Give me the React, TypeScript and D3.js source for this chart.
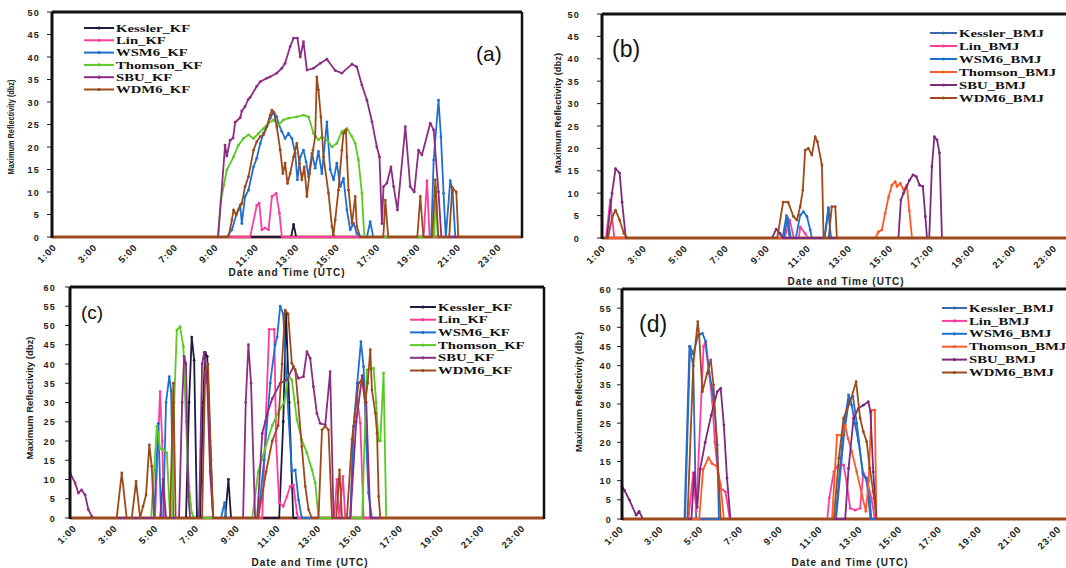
import React from "react";
import * as d3 from "d3";

type Pt = [number, number];

// ---------- shared axis data ----------
const hourTicks = [1, 3, 5, 7, 9, 11, 13, 15, 17, 19, 21, 23];
const hourLabels = ["1:00", "3:00", "5:00", "7:00", "9:00", "11:00", "13:00", "15:00", "17:00", "19:00", "21:00", "23:00"];
const yTicks50 = [0, 5, 10, 15, 20, 25, 30, 35, 40, 45, 50];
const yTicks60 = [0, 5, 10, 15, 20, 25, 30, 35, 40, 45, 50, 55, 60];
const namesKF = ["Kessler_KF", "Lin_KF", "WSM6_KF", "Thomson_KF", "SBU_KF", "WDM6_KF"];
const namesBMJ = ["Kessler_BMJ", "Lin_BMJ", "WSM6_BMJ", "Thomson_BMJ", "SBU_BMJ", "WDM6_BMJ"];
const colorsKF = ["#1c1c40", "#ff3d9e", "#1f6fd1", "#5bc825", "#8c2d84", "#9c4a1c"];
const colorsBMJ = ["#3a68b0", "#ff3d9e", "#1f6fd1", "#ff5a28", "#7c2a7c", "#9c4a1c"];
const xTitle = "Date and Time (UTC)";
const yTitle = "Maximum Reflectivity (dbz)";

// ---------- panel (a): KF ----------
const kesslerA: Pt[] = [[1, 0], [12.83, 0], [12.95, 2.8], [13.08, 0], [24.25, 0]];
const linA: Pt[] = [[1, 0], [10.8, 0], [11.13, 7], [11.25, 7.5], [11.38, 1.6], [11.54, 2], [11.71, 1.6], [11.88, 9], [12.09, 9.7], [12.25, 5.3], [12.37, 0], [19.38, 0], [19.55, 12.5], [19.68, 0], [24.25, 0]];
const wsm6A: Pt[] = [[1, 0], [9.65, 0], [9.9, 1.6], [10.14, 5.3], [10.31, 7.1], [10.39, 3], [10.55, 9], [10.72, 10.4], [10.97, 15.6], [11.13, 17.5], [11.3, 20.8], [11.46, 23], [11.63, 24.5], [11.79, 26.4], [11.96, 27.8], [12.12, 26.7], [12.2, 25.3], [12.37, 23.4], [12.53, 21.9], [12.7, 23], [12.87, 21.9], [13.03, 18.6], [13.14, 12.7], [13.28, 17.8], [13.44, 19.3], [13.57, 16.7], [13.69, 13.4], [13.86, 18.6], [14.02, 15.3], [14.18, 19], [14.35, 14.1], [14.6, 25.6], [14.76, 15], [14.93, 12.7], [15.09, 16.4], [15.26, 11.2], [15.42, 13], [15.59, 6], [15.75, 1.6], [15.92, 3], [16.08, 0.8], [16.25, 0], [16.58, 0], [16.74, 3.4], [16.89, 0], [19.76, 0], [19.88, 17.1], [20.12, 30.4], [20.24, 22.3], [20.37, 9.7], [20.48, 0], [20.7, 12.5], [20.82, 10], [20.95, 0], [24.25, 0]];
const thomsonA: Pt[] = [[1, 0], [9.2, 0], [9.35, 8], [9.5, 11.5], [9.65, 14.9], [9.98, 17.8], [10.22, 20.4], [10.47, 21.9], [10.72, 22.7], [10.97, 21.9], [11.21, 23], [11.46, 24.1], [11.71, 25.3], [11.96, 26], [12.21, 24.9], [12.45, 26], [12.7, 26.4], [13.11, 26.7], [13.44, 27.1], [13.69, 26.7], [13.94, 23], [14.18, 21.6], [14.35, 22.3], [14.6, 21.6], [14.85, 20], [15.09, 20.8], [15.34, 23.4], [15.59, 24.1], [15.84, 22.3], [16.0, 20.8], [16.16, 17.1], [16.33, 9.7], [16.45, 0], [19.9, 0], [20.0, 11], [20.08, 0], [24.25, 0]];
const sbuA: Pt[] = [[1, 0], [9.22, 0], [9.56, 20.4], [9.65, 18], [9.81, 21.5], [9.96, 22], [10.06, 25.5], [10.31, 26.5], [10.39, 28], [10.55, 29], [10.7, 30.5], [10.8, 31], [11.13, 33.5], [11.3, 34.5], [11.63, 35.3], [11.79, 35.6], [12.12, 36.4], [12.37, 37.5], [12.53, 38.6], [12.78, 42.3], [12.95, 44.2], [13.14, 44.2], [13.28, 40], [13.44, 43.4], [13.61, 37.1], [13.94, 37.5], [14.27, 38.6], [14.6, 39.5], [15.01, 37], [15.34, 36.4], [15.84, 38.4], [16.08, 37.8], [16.33, 33.8], [16.58, 30.4], [16.83, 25.6], [17.07, 20], [17.2, 17.8], [17.32, 3], [17.4, 11.2], [17.57, 12], [17.77, 15.6], [17.9, 11.2], [18.09, 6], [18.48, 24.5], [18.72, 11.2], [18.92, 10], [19.13, 19.3], [19.3, 18.2], [19.71, 25.3], [19.88, 23.8], [20.12, 10], [20.26, 0], [24.25, 0]];
const wdm6A: Pt[] = [[1, 0], [9.73, 0], [9.9, 3.8], [9.98, 6], [10.11, 4.9], [10.22, 6], [10.39, 7.5], [10.55, 11.2], [10.72, 13.4], [10.97, 19.3], [11.13, 21.2], [11.3, 22.3], [11.46, 22.7], [11.63, 24.5], [11.79, 27.1], [11.88, 28.2], [11.99, 27.5], [12.12, 24.5], [12.29, 19.3], [12.42, 14.1], [12.53, 16.4], [12.65, 11.9], [12.78, 14.1], [12.95, 17.8], [13.11, 20.8], [13.24, 16.4], [13.36, 12.7], [13.48, 15.6], [13.61, 9], [13.74, 14.1], [13.91, 19.3], [14.02, 22.3], [14.1, 35.6], [14.18, 32.7], [14.3, 26.7], [14.43, 17.8], [14.68, 9.7], [14.85, 2.3], [14.92, 0.4], [15.01, 3.8], [15.17, 10.4], [15.34, 19.3], [15.42, 23], [15.54, 23.8], [15.59, 17.8], [15.67, 10.4], [15.84, 3], [16.0, 9], [16.08, 2.3], [16.25, 0], [17.39, 0], [17.49, 8.2], [17.63, 0], [19.07, 0], [19.22, 9], [19.37, 0], [19.81, 0], [19.96, 12.7], [20.11, 0], [20.65, 0], [20.8, 11], [21.0, 10], [21.1, 0], [24.25, 0]];

// ---------- panel (b): BMJ ----------
const kesslerB: Pt[] = [[1, 0], [9.8, 0], [9.99, 5], [10.15, 0], [11.85, 0], [12.05, 6.5], [12.15, 0], [24.25, 0]];
const linB: Pt[] = [[1, 0], [1.2, 0], [1.4, 8.5], [1.6, 0], [9.9, 0], [10.15, 4], [10.35, 0], [10.6, 0], [10.66, 2.5], [10.9, 1], [11.05, 0], [24.25, 0]];
const wsm6B: Pt[] = [[1, 0], [9.85, 0], [10.05, 4.5], [10.2, 0], [10.45, 0], [10.66, 5.1], [10.82, 5.9], [10.99, 4.8], [11.15, 1.8], [11.23, 0], [11.85, 0], [12.03, 6.8], [12.15, 0], [24.25, 0]];
const thomsonB: Pt[] = [[1, 0], [14.32, 0], [14.48, 1.4], [14.64, 1.8], [14.8, 5.5], [14.97, 9.2], [15.13, 11.8], [15.29, 12.6], [15.38, 11.5], [15.54, 12.2], [15.7, 10.7], [15.86, 11.8], [15.98, 6], [16.11, 0], [24.25, 0]];
const sbuB: Pt[] = [[1, 0], [1.24, 0], [1.49, 10], [1.66, 15.5], [1.86, 14.5], [1.98, 8], [2.16, 0], [9.29, 0], [9.49, 2], [9.68, 1], [9.8, 0], [15.45, 0], [15.57, 8.5], [15.7, 10], [15.99, 12.9], [16.16, 14.1], [16.32, 13.7], [16.48, 11.8], [16.64, 11.5], [16.76, 4.8], [16.84, 0], [16.95, 0], [17.08, 15.9], [17.2, 22.6], [17.33, 21.9], [17.45, 19], [17.57, 0], [24.25, 0]];
const wdm6B: Pt[] = [[1, 0], [1.29, 0], [1.49, 4.5], [1.66, 6.2], [1.86, 4], [2.07, 1], [2.24, 0], [9.54, 0], [9.83, 8], [10.07, 8], [10.33, 4.8], [10.5, 4], [10.66, 7], [10.79, 10.7], [10.9, 19.6], [11.06, 20], [11.23, 18.5], [11.39, 22.6], [11.5, 21.5], [11.72, 16.3], [11.8, 0], [12.05, 0], [12.2, 7], [12.37, 7], [12.45, 0], [24.25, 0]];

// ---------- panel (c): KF ----------
const kesslerC: Pt[] = [[1, 0], [6.69, 0], [6.84, 30], [6.97, 47], [7.09, 41], [7.23, 0], [7.38, 0], [7.53, 30], [7.63, 43], [7.73, 42], [7.87, 20], [8.02, 0], [8.61, 0], [8.77, 10], [8.9, 0], [11.26, 0], [11.46, 25], [11.6, 53], [11.75, 30], [11.95, 0], [24.25, 0]];
const linC: Pt[] = [[1, 0], [5.17, 0], [5.32, 20], [5.42, 32.8], [5.52, 20], [5.61, 0], [10.43, 0], [10.6, 25], [10.77, 49], [11.02, 49], [11.11, 20], [11.26, 4], [11.46, 3], [11.64, 5.6], [11.8, 8.2], [11.96, 8.6], [12.13, 1.3], [12.19, 0], [13.96, 0], [14.09, 10], [14.21, 0], [14.39, 10.8], [14.5, 0], [14.75, 0], [14.91, 23.8], [15.07, 31.5], [15.24, 24.6], [15.4, 0], [24.25, 0]];
const wsm6C: Pt[] = [[1, 0], [5.12, 0], [5.33, 24.6], [5.47, 0], [5.57, 0], [5.71, 30], [5.87, 36.7], [5.96, 33], [6.07, 0], [8.41, 0], [8.58, 4], [8.66, 0], [10.23, 0], [10.52, 15], [10.82, 35], [11.06, 45], [11.16, 47], [11.31, 55], [11.46, 53], [11.64, 33.3], [11.88, 12.1], [12.05, 12.5], [12.21, 4.7], [12.37, 0], [14.75, 0], [14.91, 23.8], [15.09, 35], [15.27, 45.8], [15.4, 39.3], [15.53, 20], [15.64, 6.5], [15.81, 0], [24.25, 0]];
const thomsonC: Pt[] = [[1, 0], [4.98, 0], [5.26, 23.8], [5.42, 18], [5.58, 17.7], [5.75, 16.9], [5.91, 0], [6.01, 0], [6.11, 30], [6.24, 48.8], [6.4, 49.7], [6.56, 44.5], [6.69, 25], [6.84, 8], [6.97, 1.3], [7.09, 0], [9.94, 0], [10.23, 12], [10.57, 18], [10.92, 24], [11.26, 28], [11.51, 30], [11.7, 37], [11.88, 35.9], [12.13, 25.5], [12.37, 20.3], [12.62, 16.9], [12.87, 12.5], [13.03, 9.1], [13.19, 0], [15.33, 0], [15.56, 38.5], [15.89, 38.9], [16.02, 30], [16.13, 20], [16.22, 20], [16.38, 37.6], [16.51, 0], [24.25, 0]];
const sbuC: Pt[] = [[1, 11.7], [1.25, 9.1], [1.41, 6.5], [1.57, 7.3], [1.74, 6], [1.9, 2.2], [2.07, 0.4], [2.14, 0], [5.42, 0], [5.57, 10], [5.71, 0], [6.35, 0], [6.5, 30], [6.6, 42], [6.69, 40], [6.81, 5.6], [6.89, 0], [7.33, 0], [7.48, 40], [7.58, 43], [7.73, 35], [7.87, 12], [8.02, 0], [9.49, 0], [9.62, 30], [9.75, 45], [9.88, 35], [10.08, 0], [10.18, 0], [10.43, 22], [10.67, 27], [10.92, 31], [11.31, 35], [11.64, 35.9], [11.96, 39.3], [12.21, 36.3], [12.45, 36.7], [12.62, 43.2], [12.78, 41.5], [12.94, 34.1], [13.11, 27.2], [13.27, 24.6], [13.52, 24.2], [13.76, 38], [13.93, 0], [14.75, 0], [15.04, 25], [15.33, 37], [15.53, 30], [15.73, 0], [24.25, 0]];
const wdm6C: Pt[] = [[1, 0], [3.29, 0], [3.54, 11.7], [3.78, 0], [4.03, 0], [4.24, 9.5], [4.44, 0], [4.58, 3], [4.73, 6], [4.89, 19], [5.01, 13.4], [5.12, 0], [5.91, 0], [6.07, 35], [6.18, 0], [7.48, 0], [7.63, 38], [7.77, 40], [7.92, 15], [8.02, 0], [10.23, 0], [10.62, 12], [10.92, 20], [11.21, 24], [11.4, 40], [11.55, 54], [11.7, 53], [11.88, 40.2], [12.05, 38.5], [12.19, 30], [12.37, 18.6], [12.54, 8.2], [12.7, 2.2], [12.86, 0], [13.19, 0], [13.36, 22.9], [13.52, 23.8], [13.68, 22.9], [13.85, 0], [14.06, 0], [14.22, 12.5], [14.34, 0], [14.58, 0], [14.83, 20.3], [14.99, 27.2], [15.15, 35], [15.32, 35.9], [15.48, 30], [15.6, 35], [15.73, 43.7], [15.81, 33.3], [15.98, 27.2], [16.06, 22], [16.14, 5.6], [16.22, 0], [24.25, 0]];

// ---------- panel (d): BMJ ----------
const kesslerD: Pt[] = [[1, 0], [4.14, 0], [4.39, 45], [4.58, 40], [4.73, 0], [11.76, 0], [12.16, 22], [12.41, 31], [12.61, 32], [12.8, 25], [13.1, 12], [13.3, 10], [13.49, 0], [24.25, 0]];
const linD: Pt[] = [[1, 0], [4.34, 0], [4.58, 12], [4.73, 2], [5.1, 45], [5.18, 46], [5.38, 38], [5.54, 30.6], [5.67, 20], [5.82, 12], [5.96, 8], [6.2, 7.1], [6.42, 0], [11.32, 0], [11.42, 5.5], [11.65, 12.3], [11.86, 14], [12.14, 14.1], [12.31, 8.9], [12.47, 2.8], [12.72, 2.3], [12.97, 2.8], [13.13, 12], [13.3, 10.6], [13.54, 5.4], [13.71, 0], [24.25, 0]];
const wsm6D: Pt[] = [[1, 0], [4.17, 0], [4.42, 45], [4.58, 43], [4.83, 48], [5.04, 48.4], [5.21, 46.3], [5.38, 38.4], [5.53, 34], [5.67, 28], [5.79, 19.3], [5.87, 0], [11.73, 0], [12.14, 23.7], [12.39, 32.4], [12.55, 29.7], [12.7, 25], [12.89, 20.2], [13.13, 11.5], [13.3, 10.6], [13.46, 4.5], [13.54, 0], [24.25, 0]];
const thomsonD: Pt[] = [[1, 0], [4.88, 0], [5.08, 13], [5.35, 16], [5.52, 14.5], [5.79, 13.6], [5.95, 9], [6.12, 0], [11.56, 0], [11.81, 21.9], [12.06, 21.9], [12.22, 24.5], [12.36, 21], [12.55, 17.6], [12.8, 12.3], [13.06, 6.3], [13.26, 2], [13.4, 10], [13.54, 28.4], [13.71, 28.4], [13.79, 0], [24.25, 0]];
const sbuD: Pt[] = [[1, 8.5], [1.12, 7.5], [1.37, 5], [1.71, 1], [1.86, 2], [2.05, 0], [4.49, 0], [4.63, 12], [4.78, 3], [4.93, 13], [5.18, 20], [5.48, 27], [5.79, 33.2], [5.96, 34.1], [6.12, 24.5], [6.28, 10.6], [6.45, 0], [12.22, 0], [12.39, 13.2], [12.64, 26.3], [12.89, 28.9], [13.13, 29.7], [13.38, 30.6], [13.49, 28], [13.63, 12.3], [13.79, 0], [24.25, 0]];
const wdm6D: Pt[] = [[1, 0], [4.29, 0], [4.58, 40], [4.81, 51.5], [4.88, 48], [5.04, 33.2], [5.28, 38], [5.46, 41.5], [5.6, 35], [5.78, 18], [5.96, 0], [11.65, 0], [11.9, 15.8], [12.14, 26.3], [12.47, 30.6], [12.77, 35.8], [12.97, 26.3], [13.13, 22.8], [13.3, 20.2], [13.46, 13.2], [13.63, 7.1], [13.79, 0], [24.25, 0]];

const X_DOMAIN: [number, number] = [1, 24.25];

type PanelCfg = {
  id: string;
  names: string[];
  colors: string[];
  series: Pt[][];
  left: number; right: number; top: number; bottom: number;
  ymax: number; yTicks: number[];
  label: string; labelX: number; labelY: number; labelSize: number;
  legendX: number; legendY: number; legendDy: number; legendLen: number;
  yLabelX: number; yTitleX: number; yTitleY: number; yTitleLen: number;
  xTitleX: number; xTitleY: number; xLabDx: number;
};

const panels: PanelCfg[] = [
  {
    id: "a", names: namesKF, colors: colorsKF, series: [kesslerA, linA, wsm6A, thomsonA, sbuA, wdm6A],
    left: 52, right: 522, top: 12, bottom: 237, ymax: 50, yTicks: yTicks50,
    label: "(a)", labelX: 476, labelY: 61, labelSize: 21,
    legendX: 84, legendY: 28, legendDy: 12.3, legendLen: 30,
    yLabelX: 40, yTitleX: 11, yTitleY: 127, yTitleLen: 95,
    xTitleX: 287, xTitleY: 276, xLabDx: 5,
  },
  {
    id: "b", names: namesBMJ, colors: colorsBMJ, series: [kesslerB, linB, wsm6B, thomsonB, sbuB, wdm6B],
    left: 602, right: 1079, top: 14, bottom: 238, ymax: 50, yTicks: yTicks50,
    label: "(b)", labelX: 612, labelY: 57, labelSize: 23,
    legendX: 930, legendY: 33, legendDy: 13, legendLen: 27,
    yLabelX: 580, yTitleX: 558, yTitleY: 113, yTitleLen: 120,
    xTitleX: 846, xTitleY: 285, xLabDx: 4,
  },
  {
    id: "c", names: namesKF, colors: colorsKF, series: [kesslerC, linC, wsm6C, thomsonC, sbuC, wdm6C],
    left: 70, right: 544, top: 287, bottom: 518, ymax: 60, yTicks: yTicks60,
    label: "(c)", labelX: 81, labelY: 319, labelSize: 19,
    legendX: 410, legendY: 307, legendDy: 12.7, legendLen: 26,
    yLabelX: 56, yTitleX: 30, yTitleY: 398, yTitleLen: 123,
    xTitleX: 310, xTitleY: 566, xLabDx: 7,
  },
  {
    id: "d", names: namesBMJ, colors: colorsBMJ, series: [kesslerD, linD, wsm6D, thomsonD, sbuD, wdm6D],
    left: 622, right: 1084.5, top: 289, bottom: 519, ymax: 60, yTicks: yTicks60,
    label: "(d)", labelX: 639, labelY: 332, labelSize: 23,
    legendX: 942, legendY: 308, legendDy: 12.9, legendLen: 25,
    yLabelX: 612, yTitleX: 579, yTitleY: 392, yTitleLen: 120,
    xTitleX: 850, xTitleY: 566, xLabDx: 2,
  },
];

const SANS = "'Liberation Sans', Arial, sans-serif";
const SERIF = "'Liberation Serif', 'Times New Roman', serif";

function Panel({ p }: { p: PanelCfg }) {
  const x = d3.scaleLinear().domain(X_DOMAIN).range([p.left, p.right]);
  const y = d3.scaleLinear().domain([0, p.ymax]).range([p.bottom, p.top]);
  const line = d3.line<Pt>().x((d) => x(d[0])).y((d) => y(Math.min(d[1], p.ymax)));
  const clipId = `clip-${p.id}`;
  const base = p.colors[5];
  return (
    <g>
      <defs>
        <clipPath id={clipId}>
          <rect x={p.left - 2} y={p.top - 2} width={p.right - p.left + 4} height={p.bottom - p.top + 4} />
        </clipPath>
      </defs>
      {/* y ticks */}
      {p.yTicks.map((t) => (
        <g key={`yt${t}`}>
          <line x1={p.left - 5} x2={p.left} y1={y(t)} y2={y(t)} stroke="#222" strokeWidth={1} />
          <text x={p.yLabelX} y={y(t) + 3.5} textAnchor="end" fontFamily={SANS} fontWeight="bold" fontSize={9} letterSpacing={1.2} fill="#222">
            {t}
          </text>
        </g>
      ))}
      {/* x tick labels */}
      {hourTicks.map((h, i) => (
        <text
          key={`xt${h}`}
          transform={`translate(${x(h) + p.xLabDx},${p.bottom + 11}) rotate(-45)`}
          textAnchor="end"
          fontFamily={SANS}
          fontWeight="bold"
          fontSize={9.5}
          letterSpacing={0.8}
          fill="#222"
        >
          {hourLabels[i]}
        </text>
      ))}
      {/* series */}
      <g clipPath={`url(#${clipId})`}>
        <line x1={p.left} x2={p.right} y1={p.bottom} y2={p.bottom} stroke={base} strokeWidth={3.2} />
        {p.series.map((s, i) => (
          <g key={`s${i}`}>
            <path d={line(s) || ""} fill="none" stroke={p.colors[i]} strokeWidth={1.8} strokeLinejoin="round" />
            {s.map((d, j) =>
              d[1] > 0 ? (
                <circle key={j} cx={x(d[0])} cy={y(Math.min(d[1], p.ymax))} r={1.4} fill={p.colors[i]} />
              ) : null
            )}
          </g>
        ))}
      </g>
      {/* frame */}
      <line x1={p.left} x2={p.right} y1={p.top} y2={p.top} stroke="#111" strokeWidth={3} />
      <line x1={p.left} x2={p.left} y1={p.top} y2={p.bottom + 1} stroke="#111" strokeWidth={3} />
      <line x1={p.right} x2={p.right} y1={p.top} y2={p.bottom + 1} stroke="#111" strokeWidth={2.5} />
      {/* legend */}
      {p.names.map((n, i) => {
        const ly = p.legendY + i * p.legendDy;
        return (
          <g key={`lg${i}`}>
            <line x1={p.legendX} x2={p.legendX + p.legendLen} y1={ly} y2={ly} stroke={p.colors[i]} strokeWidth={2} />
            <circle cx={p.legendX + p.legendLen / 2} cy={ly} r={1.6} fill={p.colors[i]} />
            <text
              transform={`translate(${p.legendX + p.legendLen + 2},${ly + 3.6}) scale(1.4,1)`}
              fontFamily={SERIF}
              fontWeight="bold"
              fontSize={10.5}
              fill="#111"
            >
              {n}
            </text>
          </g>
        );
      })}
      {/* panel label */}
      <text x={p.labelX} y={p.labelY} fontFamily={SANS} fontSize={p.labelSize} fill="#111">
        {p.label}
      </text>
      {/* axis titles */}
      <text x={p.xTitleX} y={p.xTitleY} textAnchor="middle" fontFamily={SANS} fontWeight="bold" fontSize={10} letterSpacing={1} fill="#222">
        {xTitle}
      </text>
      <text
        transform={`translate(${p.yTitleX + 3},${p.yTitleY}) rotate(-90)`}
        textAnchor="middle"
        fontFamily={SANS}
        fontWeight="bold"
        fontSize={8.5}
        textLength={p.yTitleLen}
        lengthAdjust="spacingAndGlyphs"
        fill="#222"
      >
        {yTitle}
      </text>
    </g>
  );
}

export default function App() {
  return (
    <svg
      width={1066}
      height={568}
      viewBox="0 0 1066 568"
      style={{ position: "absolute", left: 0, top: 0, background: "#fff" }}
    >
      <rect x={0} y={0} width={1066} height={568} fill="#fff" />
      {panels.map((p) => (
        <Panel key={p.id} p={p} />
      ))}
    </svg>
  );
}
